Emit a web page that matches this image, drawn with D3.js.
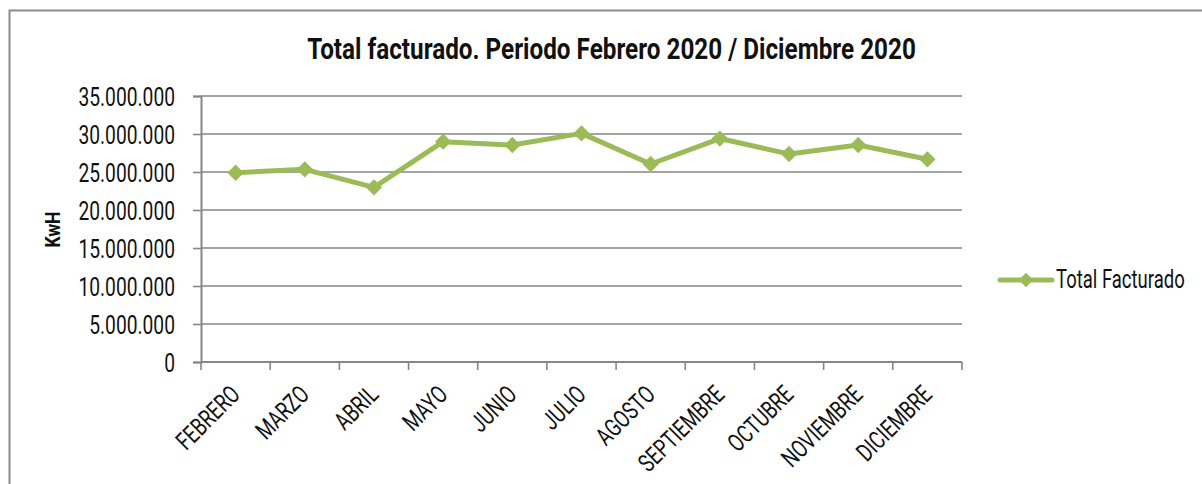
<!DOCTYPE html>
<html>
<head>
<meta charset="utf-8">
<script src="https://cdn.jsdelivr.net/npm/d3@7"></script>
<style>
  body { margin: 0; background: #fff; }
  svg text { font-family: Roboto, "Noto Sans", sans-serif; fill: #111; }
</style>
</head>
<body>
<div id="chart"></div>
<script>
// data
const months = ["FEBRERO", "MARZO", "ABRIL", "MAYO", "JUNIO", "JULIO", "AGOSTO",
  "SEPTIEMBRE", "OCTUBRE", "NOVIEMBRE", "DICIEMBRE"];
const totalFacturado = [24900000, 25350000, 22980000, 28990000, 28550000, 30080000,
  26050000, 29400000, 27370000, 28550000, 26670000];
const yTicks = [0, 5000000, 10000000, 15000000, 20000000, 25000000, 30000000, 35000000];

const W = 1202, H = 484;
var margin = { top: 96, left: 201 },
  width = 962 - margin.left,
  height = 362 - margin.top;

const GREEN = "#9bbb59";
const GRID = "#868686";
// horizontal squeeze to imitate the condensed font of the original
const SX = 0.74;

const locale = d3.formatLocale({ decimal: ",", thousands: ".", grouping: [3], currency: ["", ""] });
const fmt = locale.format(",");

var svg = d3.select("#chart").append("svg")
  .attr("width", W).attr("height", H);

// outer chart frame (cropped at right and bottom)
svg.append("rect")
  .attr("x", 9.5).attr("y", 10.5)
  .attr("width", W + 20).attr("height", H + 20)
  .attr("fill", "none").attr("stroke", "#8c8c8c").attr("stroke-width", 2);

var g = svg.append("g").attr("transform", `translate(${margin.left},${margin.top})`);

var x = d3.scaleBand().domain(months).range([0, width]).padding(0);
var y = d3.scaleLinear().domain([0, 35000000]).range([height, 0]);

// gridlines
g.selectAll(".grid").data(yTicks.slice(1)).enter().append("line")
  .attr("x1", 0).attr("x2", width)
  .attr("y1", d => y(d)).attr("y2", d => y(d))
  .attr("stroke", GRID).attr("stroke-width", 1.6);

// y axis
var yAxis = g.append("g")
  .call(d3.axisLeft(y).tickValues(yTicks).tickFormat(fmt).tickSize(8));
yAxis.select(".domain").attr("stroke", GRID).attr("stroke-width", 2);
yAxis.selectAll(".tick line").attr("stroke", GRID).attr("stroke-width", 1.6);
yAxis.selectAll(".tick text")
  .attr("x", 0).attr("dy", "0.36em")
  .attr("transform", `translate(-26,0) scale(${SX},1)`)
  .style("font-size", "26px").style("fill", "#111");

// x axis: ticks between categories
var xAxis = g.append("g").attr("transform", `translate(0,${height})`);
xAxis.append("line").attr("x1", 0).attr("x2", width)
  .attr("stroke", GRID).attr("stroke-width", 2);
var bounds = months.map(m => x(m)).concat([width]);
xAxis.selectAll(".xt").data(bounds).enter().append("line")
  .attr("x1", d => d).attr("x2", d => d).attr("y1", 0).attr("y2", 8)
  .attr("stroke", GRID).attr("stroke-width", 1.6);
xAxis.selectAll(".xl").data(months).enter().append("text")
  .attr("text-anchor", "end")
  .attr("transform", d => `translate(${x(d) + x.bandwidth() / 2 + 6},${34}) rotate(-45) scale(${SX},1)`)
  .style("font-size", "25px")
  .text(d => d);

// line + markers
var line = d3.line()
  .x((d, i) => x(months[i]) + x.bandwidth() / 2)
  .y(d => y(d));
g.append("path").datum(totalFacturado)
  .attr("d", line).attr("fill", "none")
  .attr("stroke", GREEN).attr("stroke-width", 5).attr("stroke-linejoin", "round");

var diamond = d3.symbol().type(d3.symbolDiamond2).size(170);
g.selectAll(".pt").data(totalFacturado).enter().append("path")
  .attr("d", diamond)
  .attr("transform", (d, i) => `translate(${x(months[i]) + x.bandwidth() / 2},${y(d)})`)
  .attr("fill", GREEN);

// title, squeezed to the width it has in the original
var title = svg.append("text")
  .attr("text-anchor", "middle")
  .style("font-size", "30px").style("font-weight", "bold")
  .text("Total facturado. Periodo Febrero 2020 / Diciembre 2020");
var tsx = 609 / title.node().getComputedTextLength();
title.attr("transform", `translate(611.5,59) scale(${tsx},1)`);

svg.append("text")
  .attr("transform", `translate(60,229.5) rotate(-90) scale(0.88,1)`)
  .attr("text-anchor", "middle")
  .style("font-size", "20px").style("font-weight", "bold")
  .text("KwH");

// legend
var lg = svg.append("g").attr("transform", "translate(1000,280)");
lg.append("line").attr("x1", 0).attr("x2", 52)
  .attr("stroke", GREEN).attr("stroke-width", 5).attr("stroke-linecap", "round");
lg.append("path").attr("d", d3.symbol().type(d3.symbolDiamond2).size(130))
  .attr("transform", "translate(26,0)").attr("fill", GREEN);
lg.append("text").attr("transform", `translate(56,8) scale(${SX},1)`)
  .style("font-size", "25px").text("Total Facturado");
</script>
</body>
</html>
